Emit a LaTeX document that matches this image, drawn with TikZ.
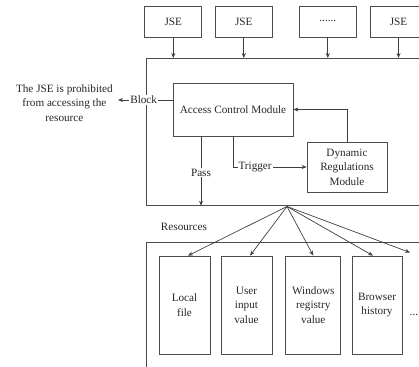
\documentclass[tikz,border=0pt]{standalone}
\usepackage{fontspec}
\setmainfont{Liberation Serif}
\usetikzlibrary{arrows.meta}
\begin{document}
\begin{tikzpicture}[x=1pt,y=-1pt,
  txt/.style={font=\fontsize{11.2}{14.5}\selectfont, text=black!85},
  box/.style={draw=black!70, line width=0.7pt, rectangle, inner sep=0pt, txt, align=center},
  arr/.style={draw=black!75, line width=0.7pt, -{Stealth[length=5pt,width=4pt]}},
  ln/.style={draw=black!75, line width=0.7pt},
  tag/.style={txt, fill=white, inner sep=1pt}]
\useasboundingbox (0,0) rectangle (419,366);
\clip (0,0) rectangle (419,366);

% script engines
\node[box, minimum width=57pt, minimum height=31pt] (j1) at (173.3,21.5) {JSE};
\node[box, minimum width=57pt, minimum height=31pt] (j2) at (243.8,21.5) {JSE};
\node[box, minimum width=57pt, minimum height=31pt] (j3) at (327.8,21.5) {\raisebox{1pt}{......}};
\node[box, minimum width=57pt, minimum height=31pt] (j4) at (398.5,21.5) {JSE};

% browser core container
\node[box, minimum width=300pt, minimum height=147pt, anchor=north west] (core) at (146,58) {};
\foreach \j in {j1,j2,j3,j4}
  \draw[arr] (\j.south) -- (\j.south |- core.north);

% modules
\node[box, minimum width=120pt, minimum height=53pt] (acm) at (233,109.5) {Access Control Module};
\node[box, minimum width=80pt, minimum height=50pt] (drm) at (347,167) {Dynamic\\Regulations\\Module};

% blocked outcome
\node[txt, align=center, anchor=east, inner sep=0pt] (deny) at (113,103) {The JSE is prohibited\\from accessing the\\resource};
\coordinate (bstart) at ([yshift=9.5pt]acm.west);
\draw[arr] (bstart) -- node[tag, pos=0.53] {Block} (bstart -| 118,0);

% pass and trigger
\coordinate (pstart) at ([xshift=-32pt]acm.south);
\draw[arr] (pstart) -- node[tag, pos=0.52] {Pass} (pstart |- core.south);
\draw[arr] (acm.south) |- node[tag, pos=0.65] {Trigger} (drm.west);
\draw[arr] (drm.north) |- (acm.east);

% resources
\node[txt] (reslabel) at (184,227) {Resources};
\node[box, minimum width=300pt, minimum height=140pt, anchor=north west] (res) at (146,241.5) {};
\node[box, minimum width=51pt, minimum height=98pt] (r1) at (184.5,305) {Local\\file};
\node[box, minimum width=51pt, minimum height=98pt] (r2) at (246.5,305) {User\\input\\value};
\node[box, minimum width=55pt, minimum height=98pt] (r3) at (313.3,305) {Windows\\registry\\value};
\node[box, minimum width=50pt, minimum height=98pt] (r4) at (377,305) {Browser\\history};
\node[txt, anchor=west, inner sep=0pt] (dots) at (409.5,315) {...};

\coordinate (hub) at (287,206.5);
\coordinate (more) at (410,252.5);
\draw[arr] (hub) -- ([xshift=3.5pt]r1.north);
\draw[arr] (hub) -- ([xshift=3.5pt]r2.north);
\draw[arr] (hub) -- (r3.north);
\draw[arr] (hub) -- ([xshift=-4pt]r4.north);
\draw[arr] (hub) -- (more);
\end{tikzpicture}
\end{document}
